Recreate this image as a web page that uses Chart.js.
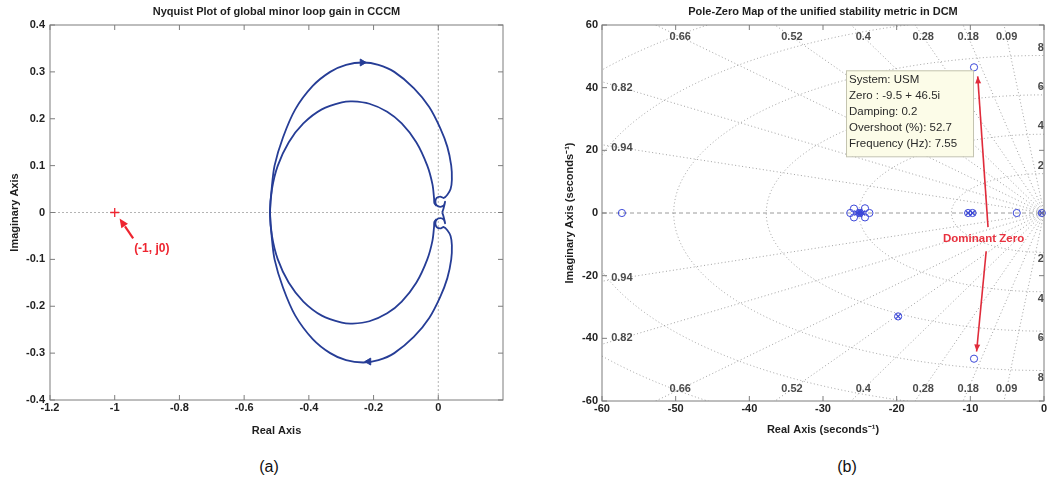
<!DOCTYPE html>
<html lang="en">
<head>
<meta charset="UTF-8" />
<title>Nyquist plot and pole-zero map</title>
<script src="https://cdn.jsdelivr.net/npm/chart.js"></script>
<style>
  body { margin: 0; background: #fff; font-family: 'Liberation Sans', Arial, sans-serif; }
  .wrap { position: relative; width: 1050px; height: 484px; overflow: hidden; }
  #nyq { position: absolute; left: 0; top: 0; }
  #pz { position: absolute; left: 520px; top: 0; }
  .cap { position: absolute; top: 457px; font-size: 16px; line-height: 20px; color: #111; transform: translateX(-50%); }
</style>
</head>
<body>
<div class="wrap">
  <canvas id="nyq" width="520" height="450"></canvas>
  <canvas id="pz" width="530" height="450"></canvas>
  <div class="cap" style="left:269px">(a)</div>
  <div class="cap" style="left:847px">(b)</div>
</div>

<script>
// ---------- (a) Nyquist plot data ----------
const nyqXTicks = [-1.2, -1, -0.8, -0.6, -0.4, -0.2, 0];
const nyqYTicks = [-0.4, -0.3, -0.2, -0.1, 0, 0.1, 0.2, 0.3, 0.4];

// branch A: inner lower arc (origin -> left), then outer upper arc (left -> origin, small loop)
const nyqBranchARe = [-0.005, -0.012, -0.013, -0.018, -0.034, -0.068, -0.113, -0.158, -0.213, -0.265, -0.298, -0.36, -0.417, -0.462, -0.496, -0.514, -0.52,
  -0.515, -0.506, -0.48, -0.442, -0.388, -0.334, -0.285, -0.232, -0.185, -0.136, -0.075, -0.028, 0.006, 0.028, 0.040, 0.042, 0.038, 0.028, 0.017, 0.006, -0.005, -0.009, -0.005, 0.006, 0.017, 0.021, 0.016, 0.012];
const nyqBranchAIm = [-0.014, -0.02, -0.03, -0.06, -0.10, -0.15, -0.19, -0.215, -0.232, -0.237, -0.235, -0.22, -0.19, -0.15, -0.10, -0.05, 0.0,
  0.05, 0.10, 0.16, 0.22, 0.27, 0.30, 0.315, 0.32, 0.315, 0.30, 0.265, 0.225, 0.18, 0.14, 0.10, 0.07, 0.05, 0.038, 0.031, 0.034, 0.031, 0.023, 0.015, 0.012, 0.015, 0.023, 0.008, 0.0];

// branch B: outer lower arc (origin -> left, small loop first), then inner upper arc (left -> origin)
const nyqBranchBRe = [0.012, 0.016, 0.021, 0.017, 0.006, -0.005, -0.009, -0.005, 0.006, 0.017, 0.028, 0.038, 0.042, 0.040, 0.028, 0.006, -0.028, -0.075, -0.136, -0.185, -0.232, -0.285, -0.334, -0.388, -0.442, -0.48, -0.506, -0.515, -0.52,
  -0.514, -0.496, -0.462, -0.417, -0.36, -0.298, -0.265, -0.213, -0.158, -0.113, -0.068, -0.034, -0.018, -0.013, -0.012, -0.005];
const nyqBranchBIm = [0.0, -0.008, -0.023, -0.015, -0.012, -0.015, -0.023, -0.031, -0.034, -0.031, -0.038, -0.05, -0.07, -0.10, -0.14, -0.18, -0.225, -0.265, -0.30, -0.315, -0.32, -0.315, -0.30, -0.27, -0.22, -0.16, -0.10, -0.05, 0.0,
  0.05, 0.10, 0.15, 0.19, 0.22, 0.235, 0.237, 0.232, 0.215, 0.19, 0.15, 0.10, 0.06, 0.03, 0.02, 0.014];

const nyqArrowRe = [-0.235, -0.215];
const nyqArrowIm = [0.32, -0.318];
const criticalRe = [-1];
const criticalIm = [0];

// ---------- (b) pole-zero map data ----------
const pzXTicks = [-60, -50, -40, -30, -20, -10, 0];
const pzYTicks = [-60, -40, -20, 0, 20, 40, 60];
const pzZeroRe = [-57.3, -26.3, -23.7, -25.8, -24.3, -25.8, -24.3, -25.0, -10.3, -9.7, -3.7, -0.3, -9.5, -9.5, -19.8, -19.8];
const pzZeroIm = [0, 0, 0, 1.4, 1.5, -1.4, -1.4, 0, 0, 0, 0, 0, 46.5, -46.5, -33.0, 33.0];
const pzPoleRe = [-25.0, -25.4, -24.6, -25.0, -25.0, -10.3, -9.7, -0.3, -19.8, -19.8];
const pzPoleIm = [0, 0, 0, 0.6, -0.6, 0, 0, 0, -33.0, 33.0];
const dampingLevels = [0.09, 0.18, 0.28, 0.4, 0.52, 0.66, 0.82, 0.94];
const freqLevelsHz = [2, 4, 6, 8, 10, 12];
const tipLines = ['System: USM', 'Zero : -9.5 + 46.5i', 'Damping: 0.2', 'Overshoot (%): 52.7', 'Frequency (Hz): 7.55'];

// ---------- shared styling ----------
const FONT = '"Liberation Sans", Arial, sans-serif';
const curveBlue = '#263d96';
const pzBlue = '#3c48d8';
const red = '#ee2530';
const tickFont = { family: FONT, size: 11, weight: 'bold' };
const tickColor = '#222';

const pts = (re, im) => re.map((x, i) => ({ x: x, y: im[i] }));

function frame(title, xTicks, yTicks) {
  return {
    id: 'frame',
    afterDatasetsDraw(chart) {
      const { ctx, chartArea: a, scales: { x, y } } = chart;
      ctx.save();
      ctx.setLineDash([]);
      ctx.strokeStyle = '#7d7d7d';
      ctx.lineWidth = 1;
      ctx.strokeRect(a.left, a.top, a.right - a.left, a.bottom - a.top);
      ctx.beginPath();
      xTicks.forEach(v => {
        const px = x.getPixelForValue(v);
        ctx.moveTo(px, a.bottom); ctx.lineTo(px, a.bottom - 5);
        ctx.moveTo(px, a.top); ctx.lineTo(px, a.top + 5);
      });
      yTicks.forEach(v => {
        const py = y.getPixelForValue(v);
        ctx.moveTo(a.left, py); ctx.lineTo(a.left + 5, py);
        ctx.moveTo(a.right, py); ctx.lineTo(a.right - 5, py);
      });
      ctx.stroke();
      ctx.font = 'bold 11px ' + FONT;
      ctx.fillStyle = '#1e1e1e';
      ctx.textAlign = 'center';
      ctx.textBaseline = 'middle';
      ctx.fillText(title, (a.left + a.right) / 2, 12);
      ctx.restore();
    }
  };
}

function arrowHead(ctx, x1, y1, x2, y2, len, half) {
  const ang = Math.atan2(y2 - y1, x2 - x1);
  ctx.beginPath();
  ctx.moveTo(x2, y2);
  ctx.lineTo(x2 - len * Math.cos(ang) + half * Math.sin(ang), y2 - len * Math.sin(ang) - half * Math.cos(ang));
  ctx.lineTo(x2 - len * Math.cos(ang) - half * Math.sin(ang), y2 - len * Math.sin(ang) + half * Math.cos(ang));
  ctx.closePath();
  ctx.fill();
}

function axisOpts(min, max, ticksArr, titleText, fitFn, titlePad, tickPad) {
  return {
    type: 'linear', min: min, max: max,
    afterBuildTicks: s => { s.ticks = ticksArr.map(v => ({ value: v })); },
    afterFit: fitFn,
    grid: { display: false, drawTicks: false },
    border: { display: false },
    ticks: { callback: v => String(v), font: tickFont, color: tickColor, padding: tickPad, maxRotation: 0, autoSkip: false },
    title: { display: true, text: titleText, font: { family: FONT, size: 11, weight: 'bold' }, color: '#1e1e1e', padding: titlePad }
  };
}

// ---------- (a) ----------
const nyqMarks = {
  id: 'nyqMarks',
  beforeDatasetsDraw(chart) {
    const { ctx, chartArea: a, scales: { x, y } } = chart;
    ctx.save();
    ctx.strokeStyle = '#b4b4b4';
    ctx.lineWidth = 1;
    ctx.setLineDash([2, 2]);
    ctx.beginPath();
    ctx.moveTo(a.left, y.getPixelForValue(0)); ctx.lineTo(a.right, y.getPixelForValue(0));
    ctx.moveTo(x.getPixelForValue(0), a.top); ctx.lineTo(x.getPixelForValue(0), a.bottom);
    ctx.stroke();
    ctx.restore();
  },
  afterDatasetsDraw(chart) {
    const { ctx, scales: { x, y } } = chart;
    ctx.save();
    const x1 = x.getPixelForValue(-0.943), y1 = y.getPixelForValue(-0.055);
    const x2 = x.getPixelForValue(-0.985), y2 = y.getPixelForValue(-0.013);
    ctx.strokeStyle = red; ctx.fillStyle = red; ctx.lineWidth = 2.2;
    ctx.beginPath(); ctx.moveTo(x1, y1); ctx.lineTo(x1 + (x2 - x1) * 0.6, y1 + (y2 - y1) * 0.6); ctx.stroke();
    arrowHead(ctx, x1, y1, x2, y2, 9, 4);
    ctx.font = 'bold 12px ' + FONT;
    ctx.textAlign = 'left'; ctx.textBaseline = 'middle';
    ctx.fillText('(-1, j0)', x.getPixelForValue(-0.94), y.getPixelForValue(-0.077));
    ctx.restore();
  }
};

new Chart(document.getElementById('nyq'), {
  type: 'scatter',
  data: {
    datasets: [
      { data: pts(nyqBranchARe, nyqBranchAIm), showLine: true, borderColor: curveBlue, borderWidth: 1.8, pointRadius: 0, tension: 0.3 },
      { data: pts(nyqBranchBRe, nyqBranchBIm), showLine: true, borderColor: curveBlue, borderWidth: 1.8, pointRadius: 0, tension: 0.3 },
      { data: pts(nyqArrowRe, nyqArrowIm), pointStyle: 'triangle', pointRadius: 4, pointRotation: [90, -90], backgroundColor: curveBlue, borderColor: curveBlue, borderWidth: 1 },
      { data: pts(criticalRe, criticalIm), pointStyle: 'cross', pointRadius: 4.5, borderColor: red, borderWidth: 1.3 }
    ]
  },
  options: {
    responsive: false,
    animation: false,
    layout: { padding: { left: 0, right: 17, top: 25, bottom: 0 } },
    plugins: { legend: { display: false }, tooltip: { enabled: false } },
    scales: {
      x: axisOpts(-1.2, 0.2, nyqXTicks, 'Real Axis', s => { s.height = 50; }, { top: 0, bottom: 12 }, 1),
      y: axisOpts(-0.4, 0.4, nyqYTicks, 'Imaginary Axis', s => { s.width = 50; }, { top: 8, bottom: 0 }, 5)
    }
  },
  plugins: [nyqMarks, frame('Nyquist Plot of global minor loop gain in CCCM', nyqXTicks, nyqYTicks)]
});

// ---------- (b) ----------
const pzGrid = {
  id: 'pzGrid',
  beforeDatasetsDraw(chart) {
    const { ctx, chartArea: a, scales: { x, y } } = chart;
    const x0 = x.getPixelForValue(0), y0 = y.getPixelForValue(0);
    ctx.save();
    ctx.beginPath(); ctx.rect(a.left, a.top, a.right - a.left, a.bottom - a.top); ctx.clip();
    ctx.strokeStyle = 'rgba(100,100,100,0.6)';
    ctx.lineWidth = 1;
    ctx.setLineDash([1, 2.5]);
    dampingLevels.forEach(z => {
      const far = 300;
      [1, -1].forEach(s => {
        ctx.beginPath();
        ctx.moveTo(x0, y0);
        ctx.lineTo(x.getPixelForValue(-z * far), y.getPixelForValue(s * far * Math.sqrt(1 - z * z)));
        ctx.stroke();
      });
    });
    freqLevelsHz.forEach(f => {
      const wn = 2 * Math.PI * f;
      const rx = Math.abs(x.getPixelForValue(-wn) - x0), ry = Math.abs(y.getPixelForValue(wn) - y0);
      ctx.beginPath();
      ctx.ellipse(x0, y0, rx, ry, 0, Math.PI / 2, 3 * Math.PI / 2);
      ctx.stroke();
    });
    ctx.strokeStyle = '#9a9a9a';
    ctx.setLineDash([4, 3]);
    ctx.beginPath(); ctx.moveTo(a.left, y0); ctx.lineTo(a.right, y0); ctx.stroke();

    // grid labels
    ctx.setLineDash([]);
    ctx.font = 'bold 11px ' + FONT;
    ctx.fillStyle = '#4a4a4a';
    ctx.textAlign = 'center';
    ctx.textBaseline = 'middle';
    dampingLevels.forEach(z => {
      const t = Math.sqrt(1 - z * z) / z;
      const xTop = -56.2 / t;
      [1, -1].forEach(s => {
        if (xTop > -56) {
          ctx.fillText(String(z), x.getPixelForValue(xTop), y.getPixelForValue(s * 56.2));
        } else {
          ctx.fillText(String(z), x.getPixelForValue(-57.3), y.getPixelForValue(s * 57.3 * t));
        }
      });
    });
    freqLevelsHz.forEach(f => {
      const wn = 2 * Math.PI * f;
      if (wn > 58) return;
      ctx.fillText(String(f), x.getPixelForValue(-0.45), y.getPixelForValue(wn) - 8);
      ctx.fillText(String(f), x.getPixelForValue(-0.45), y.getPixelForValue(-wn) + 7);
    });
    ctx.restore();
  },
  afterDatasetsDraw(chart) {
    const { ctx, scales: { x, y } } = chart;
    ctx.save();
    // data tip of the dominant zero
    const k = pzZeroIm.indexOf(Math.max(...pzZeroIm));
    const tx = x.getPixelForValue(pzZeroRe[k]), ty = y.getPixelForValue(pzZeroIm[k]);
    const w = 127, h = 86, left = tx - 1 - w, top = ty + 3;
    ctx.fillStyle = '#fcfce8';
    ctx.fillRect(left, top, w, h);
    ctx.strokeStyle = '#c4c4b0';
    ctx.lineWidth = 1;
    ctx.strokeRect(left + 0.5, top + 0.5, w, h);
    ctx.font = '11.5px ' + FONT;
    ctx.fillStyle = '#2a2a2a';
    ctx.textAlign = 'left';
    ctx.textBaseline = 'middle';
    tipLines.forEach((s, i) => ctx.fillText(s, left + 3, top + 10 + 16 * i));

    // "Dominant Zero" arrows
    ctx.strokeStyle = '#e02b3a'; ctx.fillStyle = '#e02b3a'; ctx.lineWidth = 1.6;
    const segs = [[-7.6, -4.5, -9.0, 43.6], [-7.85, -12.2, -9.15, -44.2]];
    segs.forEach(sg => {
      const x1 = x.getPixelForValue(sg[0]), y1 = y.getPixelForValue(sg[1]);
      const x2 = x.getPixelForValue(sg[2]), y2 = y.getPixelForValue(sg[3]);
      ctx.beginPath(); ctx.moveTo(x1, y1); ctx.lineTo(x2, y2); ctx.stroke();
      arrowHead(ctx, x1, y1, x2, y2, 7, 3);
    });
    ctx.font = 'bold 11.5px ' + FONT;
    ctx.fillStyle = '#e8323f';
    ctx.textAlign = 'center';
    ctx.fillText('Dominant Zero', x.getPixelForValue(-8.2), y.getPixelForValue(-8.3));
    ctx.restore();
  }
};

new Chart(document.getElementById('pz'), {
  type: 'scatter',
  data: {
    datasets: [
      { data: pts(pzZeroRe, pzZeroIm), pointStyle: 'circle', pointRadius: 3.6, backgroundColor: 'rgba(0,0,0,0)', borderColor: pzBlue, borderWidth: 1, clip: false },
      { data: pts(pzPoleRe, pzPoleIm), pointStyle: 'crossRot', pointRadius: 3.6, borderColor: pzBlue, borderWidth: 1.2, clip: false }
    ]
  },
  options: {
    responsive: false,
    animation: false,
    layout: { padding: { left: 0, right: 6, top: 25, bottom: 0 } },
    plugins: { legend: { display: false }, tooltip: { enabled: false } },
    scales: {
      x: axisOpts(-60, 0, pzXTicks, 'Real Axis (seconds\u207B\u00B9)', s => { s.height = 49; }, { top: 0, bottom: 13 }, 1),
      y: axisOpts(-60, 60, pzYTicks, 'Imaginary Axis (seconds\u207B\u00B9)', s => { s.width = 82; }, { top: 43, bottom: 0 }, 4)
    }
  },
  plugins: [pzGrid, frame('Pole-Zero Map of the unified stability metric in DCM', pzXTicks, pzYTicks)]
});
</script>
</body>
</html>
